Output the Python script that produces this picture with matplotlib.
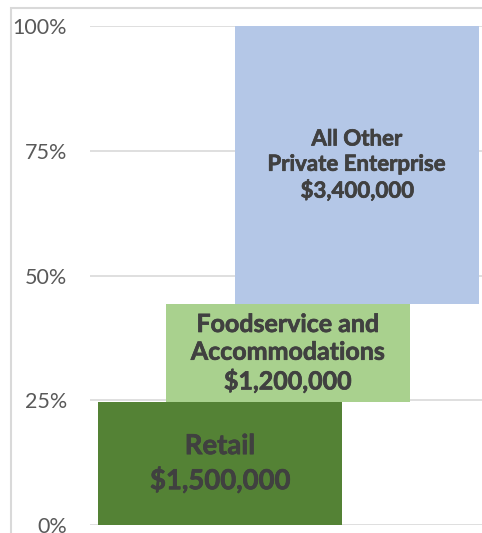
import matplotlib.pyplot as plt
import matplotlib.patheffects as pe
from matplotlib.patches import Rectangle

# share of spending by sector, stacked as offset blocks
sectors = ["Retail", "Foodservice and\nAccommodations", "All Other\nPrivate Enterprise"]
amounts = [1500000, 1200000, 3400000]
colors = ["#548235", "#A9D18E", "#B4C7E7"]
yticks = [0, 0.25, 0.5, 0.75, 1.0]
ytick_labels = ["0%", "25%", "50%", "75%", "100%"]

total = sum(amounts)
shares = [a / total for a in amounts]
bottoms = [sum(shares[:i]) for i in range(len(shares))]

# horizontal layout of the blocks (axis units = pixels of the plot area)
lefts = [8, 76, 145]
block_w = 244
label_sizes = [19.8, 18.0, 16.0]
label_spacing = [1.3, 1.25, 1.25]
heavy = [pe.withStroke(linewidth=0.5, foreground="#404040")]

fig = plt.figure(figsize=(4.82, 5.33), dpi=100)
ax = fig.add_axes([90 / 482, 8 / 533, 392 / 482, 499 / 533])

# chart border
fig.patches.append(Rectangle((11 / 482, -0.1), 1.2, (533 - 8) / 533 + 0.1,
                             transform=fig.transFigure, fill=False,
                             edgecolor="#D9D9D9", linewidth=1.5, zorder=0))

for name, amt, share, bot, left, col, fs, ls in zip(
        sectors, amounts, shares, bottoms, lefts, colors, label_sizes, label_spacing):
    ax.bar(left, share, width=block_w, bottom=bot, align="edge",
           color=col, edgecolor="none", zorder=2)
    ax.text(left + block_w / 2, bot + share / 2, f"{name}\n${amt:,.0f}",
            ha="center", va="center", fontsize=fs, fontweight="bold",
            family="Lato", color="#404040", linespacing=ls, zorder=3,
            path_effects=heavy)

ax.set_xlim(0, 392)
ax.set_ylim(0, 1)
ax.set_yticks(yticks)
ax.set_yticklabels(ytick_labels, family="Lato", fontsize=15.5, color="#595959")
ax.tick_params(axis="y", length=0, pad=16.5)
ax.set_xticks([])
ax.grid(axis="y", color="#D9D9D9", linewidth=1.2, zorder=0)
ax.set_axisbelow(True)
for s in ax.spines.values():
    s.set_visible(False)

fig.savefig("out.png", dpi=100)
